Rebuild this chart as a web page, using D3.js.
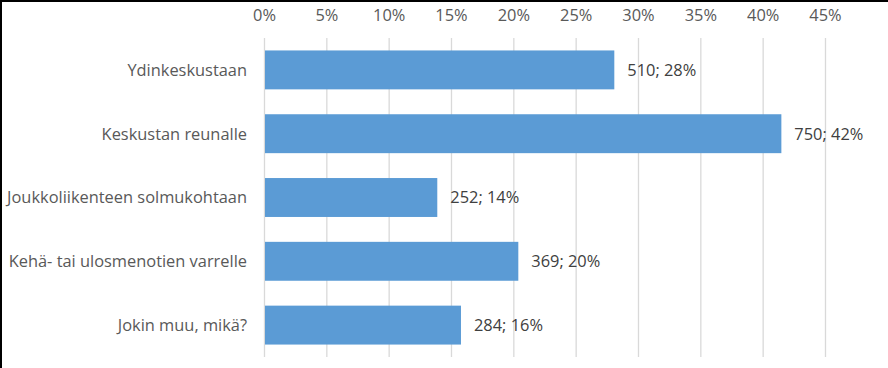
<!DOCTYPE html>
<html><head><meta charset="utf-8">
<script src="https://cdn.jsdelivr.net/npm/d3@7"></script>
<style>body{margin:0;background:#fff}svg{display:block}</style>
</head><body>
<script>
const categories = ["Ydinkeskustaan","Keskustan reunalle","Joukkoliikenteen solmukohtaan","Kehä- tai ulosmenotien varrelle","Jokin muu, mikä?"];
const counts = [510, 750, 252, 369, 284];
const percents = [28.1, 41.5, 13.9, 20.4, 15.8];
const tickValues = [0,5,10,15,20,25,30,35,40,45];

const W = 888, H = 368;
const svg = d3.select("body").append("svg").attr("width", W).attr("height", H);
svg.append("rect").attr("width", W).attr("height", H).attr("fill", "#fff");

const x = d3.scaleLinear().domain([0,45]).range([264,825]);
const y = d3.scaleBand().domain(categories).range([38,357]).paddingInner(0.39).paddingOuter(0.195);
const font = "'Open Sans', Lato, sans-serif";
const fs = "16.4px";

// gridlines
svg.append("g").selectAll("line").data(tickValues).join("line")
  .attr("x1", d=>x(d)+0.5).attr("x2", d=>x(d)+0.5).attr("y1", 38).attr("y2", 357)
  .attr("stroke", "#d9d9d9").attr("stroke-width", 1.3);

// top axis labels
const ax = svg.append("g").attr("transform","translate(0,15)")
  .call(d3.axisTop(x).tickValues(tickValues).tickFormat(d=>d+"%").tickSize(0).tickPadding(0));
ax.select(".domain").remove();
ax.selectAll("text").attr("fill","#595959").style("font-family",font).style("font-size",fs)
  .attr("dy","0.36em");

// bars
const data = categories.map((c,i)=>({c, n:counts[i], p:percents[i]}));
svg.append("g").selectAll("rect").data(data).join("rect")
  .attr("x", x(0)+1).attr("y", d=>y(d.c)).attr("height", y.bandwidth())
  .attr("width", d=>x(d.p)-x(0)-1).attr("fill", "#5b9bd5");

// value labels
svg.append("g").selectAll("text").data(data).join("text")
  .attr("x", d=>x(d.p)+13).attr("y", d=>y(d.c)+y.bandwidth()/2).attr("dy","0.36em")
  .attr("fill","#404040").style("font-family",font).style("font-size",fs)
  .text(d=>d.n+"; "+Math.round(d.p)+"%");

// category labels
svg.append("g").selectAll("text").data(data).join("text")
  .attr("x", 247).attr("y", d=>y(d.c)+y.bandwidth()/2).attr("dy","0.36em")
  .attr("text-anchor","end").attr("fill","#595959").style("font-family",font).style("font-size",fs)
  .text(d=>d.c);

// black frame top & left
svg.append("rect").attr("x",0).attr("y",0).attr("width",W).attr("height",2).attr("fill","#000");
svg.append("rect").attr("x",0).attr("y",0).attr("width",2).attr("height",H).attr("fill","#000");
</script>
</body></html>
